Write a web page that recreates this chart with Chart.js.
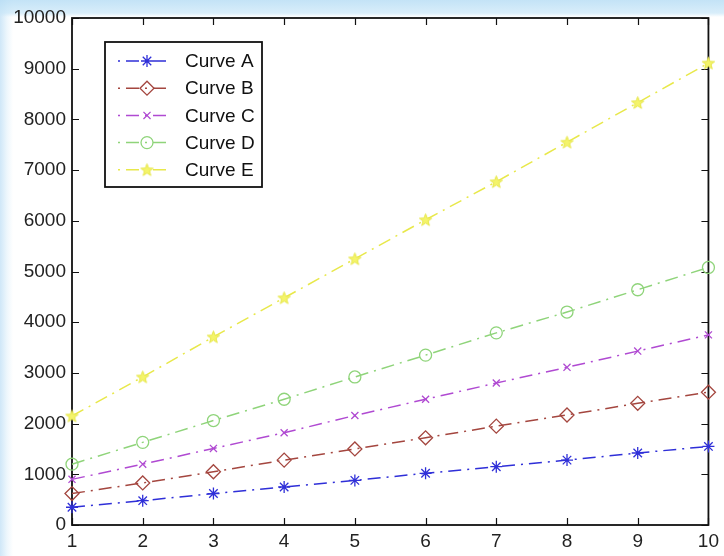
<!DOCTYPE html>
<html lang="en">
<head>
    <meta charset="UTF-8">
    <title>Curves A-E</title>
    <script src="https://cdn.jsdelivr.net/npm/chart.js"></script>
</head>
<style>
	body {
	    margin: 0;
	    padding: 0;
	    width: 724px;
	    height: 556px;
	    overflow: hidden;
	    /* faint blue watermark along the top and left edges */
	    background:
	        linear-gradient(to bottom, rgba(185, 222, 245, 0.85) 0, rgba(200, 230, 248, 0.7) 13px, rgba(255, 255, 255, 0) 17px),
	        linear-gradient(to right, rgba(195, 225, 246, 0.8) 0, rgba(210, 234, 249, 0.4) 7px, rgba(255, 255, 255, 0) 13px),
	        #ffffff;
	}

	.wrap {
	    position: relative;
	    width: 724px;
	    height: 556px;
	}
</style>
<body>
    <div class="wrap">
        <canvas id="curves" width="724" height="556"></canvas>
    </div>

    <script>
        // data
        const xValues = [1, 2, 3, 4, 5, 6, 7, 8, 9, 10];
        const curveA = [350, 480, 620, 750, 880, 1020, 1150, 1280, 1420, 1550];
        const curveB = [620, 830, 1050, 1280, 1500, 1720, 1950, 2170, 2400, 2620];
        const curveC = [900, 1200, 1510, 1820, 2160, 2480, 2800, 3110, 3430, 3750];
        const curveD = [1200, 1630, 2060, 2480, 2920, 3350, 3790, 4200, 4640, 5080];
        const curveE = [2150, 2920, 3710, 4480, 5250, 6020, 6770, 7550, 8330, 9110];
        const seriesNames = ['Curve A', 'Curve B', 'Curve C', 'Curve D', 'Curve E'];
        const xTickValues = [1, 2, 3, 4, 5, 6, 7, 8, 9, 10];
        const yTickValues = [0, 1000, 2000, 3000, 4000, 5000, 6000, 7000, 8000, 9000, 10000];

        const FONT = '"Liberation Sans", Arial, Helvetica, sans-serif';
        const dashDot = [13, 6, 2, 6];

        // pentagram marker (Chart.js has no 5-point star)
        function makePentagram(size, fill, stroke) {
            const c = document.createElement('canvas');
            c.width = size;
            c.height = size;
            const g = c.getContext('2d');
            const cx = size / 2, cy = size / 2 + 0.5;
            const ro = size / 2 - 1, ri = ro * 0.42;
            g.beginPath();
            for (let i = 0; i < 10; i++) {
                const r = i % 2 === 0 ? ro : ri;
                const a = -Math.PI / 2 + i * Math.PI / 5;
                const px = cx + r * Math.cos(a);
                const py = cy + r * Math.sin(a);
                if (i === 0) g.moveTo(px, py); else g.lineTo(px, py);
            }
            g.closePath();
            g.fillStyle = fill;
            g.fill();
            g.strokeStyle = stroke;
            g.lineWidth = 1;
            g.stroke();
            return c;
        }
        const starImg = makePentagram(15, '#f4f46a', '#e6e64a');

        function toPoints(values) {
            return xValues.map((x, i) => ({ x: x, y: values[i] }));
        }

        function curve(label, values, color, style, radius) {
            return {
                label: label,
                data: toPoints(values),
                borderColor: color,
                borderWidth: 1.5,
                borderDash: dashDot,
                pointStyle: style,
                pointRadius: radius,
                pointHoverRadius: radius,
                pointBorderColor: color,
                pointBackgroundColor: 'rgba(0,0,0,0)',
                pointBorderWidth: 1.3,
                fill: false,
                tension: 0,
                clip: false
            };
        }

        // inward ticks on all four sides plus the box, drawn under the data
        const axesBox = {
            id: 'axesBox',
            beforeDatasetsDraw(chart) {
                const { ctx, chartArea: a, scales } = chart;
                const len = 7;
                ctx.save();
                ctx.strokeStyle = '#111';
                ctx.lineWidth = 1.2;
                ctx.beginPath();
                xTickValues.forEach(v => {
                    const px = Math.round(scales.x.getPixelForValue(v)) + 0.5;
                    ctx.moveTo(px, a.bottom); ctx.lineTo(px, a.bottom - len);
                    ctx.moveTo(px, a.top); ctx.lineTo(px, a.top + len);
                });
                yTickValues.forEach(v => {
                    const py = Math.round(scales.y.getPixelForValue(v)) + 0.5;
                    ctx.moveTo(a.left, py); ctx.lineTo(a.left + len, py);
                    ctx.moveTo(a.right, py); ctx.lineTo(a.right - len, py);
                });
                ctx.stroke();
                ctx.lineWidth = 1.8;
                ctx.strokeRect(a.left, a.top, a.right - a.left, a.bottom - a.top);
                ctx.restore();
            }
        };

        // MATLAB-like legend box sitting inside the axes, top-left
        const boxLegend = {
            id: 'boxLegend',
            afterDraw(chart) {
                const { ctx } = chart;
                const bx = 105, by = 42, bw = 157, bh = 145;
                ctx.save();
                ctx.fillStyle = '#fff';
                ctx.fillRect(bx, by, bw, bh);
                ctx.strokeStyle = '#111';
                ctx.lineWidth = 1.8;
                ctx.strokeRect(bx, by, bw, bh);
                chart.data.datasets.forEach((ds, i) => {
                    const y = 61 + i * 27.2;
                    ctx.strokeStyle = ds.borderColor;
                    ctx.lineWidth = ds.borderWidth;
                    ctx.setLineDash(ds.borderDash);
                    ctx.lineDashOffset = 19;
                    ctx.beginPath();
                    ctx.moveTo(118, y);
                    ctx.lineTo(167, y);
                    ctx.stroke();
                    ctx.setLineDash([]);
                    ctx.lineWidth = ds.pointBorderWidth;
                    ctx.fillStyle = ds.pointBackgroundColor;
                    if (Chart.helpers && Chart.helpers.drawPoint) {
                        Chart.helpers.drawPoint(ctx, {
                            pointStyle: ds.pointStyle,
                            radius: ds.pointRadius,
                            rotation: 0,
                            borderWidth: ds.pointBorderWidth
                        }, 147, y);
                    }
                    ctx.fillStyle = '#111';
                    ctx.font = '19px ' + FONT;
                    ctx.textAlign = 'left';
                    ctx.textBaseline = 'middle';
                    ctx.fillText(ds.label, 185, y + 1);
                });
                ctx.restore();
            }
        };

        const ctx = document.getElementById('curves').getContext('2d');
        new Chart(ctx, {
            type: 'line',
            data: {
                datasets: [
                    curve(seriesNames[0], curveA, '#2f2fd8', 'star', 6),
                    curve(seriesNames[1], curveB, '#a4463f', 'rectRot', 7),
                    curve(seriesNames[2], curveC, '#b04ad2', 'crossRot', 5),
                    curve(seriesNames[3], curveD, '#8fd47a', 'circle', 6),
                    curve(seriesNames[4], curveE, '#e8e84a', starImg, 7)
                ]
            },
            options: {
                responsive: false,
                animation: false,
                events: [],
                layout: {
                    padding: { top: 18, right: 11, left: 0, bottom: 0 }
                },
                plugins: {
                    legend: { display: false },
                    tooltip: { enabled: false }
                },
                scales: {
                    x: {
                        type: 'linear',
                        min: 1,
                        max: 10,
                        afterBuildTicks: s => { s.ticks = xTickValues.map(v => ({ value: v })); },
                        afterFit: s => { s.height = 31; },
                        grid: { display: false, drawTicks: false },
                        border: { display: false },
                        ticks: {
                            padding: 5,
                            color: '#222',
                            font: { family: FONT, size: 19 }
                        }
                    },
                    y: {
                        min: 0,
                        max: 10000,
                        afterBuildTicks: s => { s.ticks = yTickValues.map(v => ({ value: v })); },
                        afterFit: s => { s.width = 72; },
                        grid: { display: false, drawTicks: false },
                        border: { display: false },
                        ticks: {
                            padding: 6,
                            color: '#222',
                            font: { family: FONT, size: 19 },
                            callback: v => String(v)
                        }
                    }
                }
            },
            plugins: [axesBox, boxLegend]
        });
    </script>
</body>
</html>
